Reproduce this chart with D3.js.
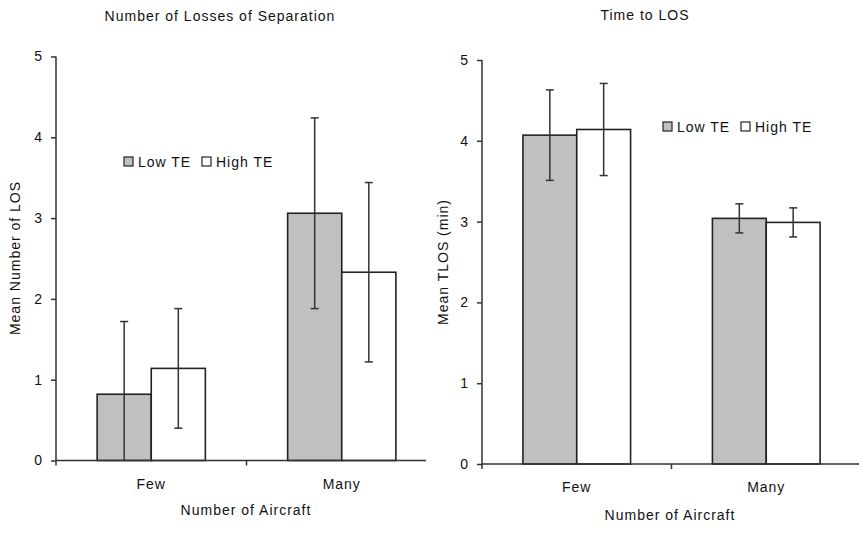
<!DOCTYPE html>
<html>
<head>
<meta charset="utf-8">
<script src="https://cdn.jsdelivr.net/npm/d3@7"></script>
<style>
  html, body { margin: 0; padding: 0; background: #fff; }
  svg text { font-family: "Liberation Sans", Arial, sans-serif; font-size: 14px; fill: #111; letter-spacing: 1px; }
</style>
</head>
<body>
<svg id="chart" width="862" height="552"></svg>
<script>
// ---- Data ----
const categories = ["Few", "Many"];
const series = ["Low TE", "High TE"];
const yTicks = [0, 1, 2, 3, 4, 5];

// Chart 1: Number of Losses of Separation
const losLow = [0.82, 3.06];
const losHigh = [1.14, 2.33];
const losLowErr = [0.90, 1.18];
const losHighErr = [0.74, 1.11];

// Chart 2: Time to LOS
const tlosLow = [4.07, 3.04];
const tlosHigh = [4.14, 2.99];
const tlosLowErr = [0.56, 0.18];
const tlosHighErr = [0.57, 0.18];

const colors = { "Low TE": "#c0c0c0", "High TE": "#ffffff" };

const svg = d3.select("#chart");

function drawChart(cfg) {
  const g = svg.append("g");
  const y = d3.scaleLinear().domain([0, 5]).range([cfg.y0, cfg.y5]);
  const x0 = d3.scaleBand().domain(categories).range([cfg.xStart, cfg.xBandEnd]).padding(0);
  const x1 = d3.scaleBand().domain(series).range([0, x0.bandwidth()]).paddingInner(0).paddingOuter(0.76);

  const rows = categories.map((c, i) => ({
    cat: c,
    vals: [
      { s: "Low TE", v: cfg.low[i], e: cfg.lowErr[i] },
      { s: "High TE", v: cfg.high[i], e: cfg.highErr[i] }
    ]
  }));

  // bars
  const grp = g.selectAll("g.cat").data(rows).join("g")
    .attr("transform", d => `translate(${x0(d.cat)},0)`);
  grp.selectAll("rect").data(d => d.vals).join("rect")
    .attr("x", d => x1(d.s))
    .attr("y", d => y(d.v))
    .attr("width", x1.bandwidth())
    .attr("height", d => y(0) - y(d.v))
    .attr("fill", d => colors[d.s])
    .attr("stroke", "#222")
    .attr("stroke-width", 1.6);

  // error bars
  const eb = grp.selectAll("g.err").data(d => d.vals).join("g").attr("class", "err");
  const cx = d => x1(d.s) + x1.bandwidth() / 2;
  const lo = d => y(Math.max(0, d.v - d.e));
  const hi = d => y(Math.min(5, d.v + d.e));
  eb.append("line").attr("x1", cx).attr("x2", cx).attr("y1", lo).attr("y2", hi)
    .attr("stroke", "#333").attr("stroke-width", 1.5);
  eb.append("line").attr("x1", d => cx(d) - 4).attr("x2", d => cx(d) + 4).attr("y1", hi).attr("y2", hi)
    .attr("stroke", "#333").attr("stroke-width", 1.5);
  eb.filter(d => d.v - d.e > 0).append("line")
    .attr("x1", d => cx(d) - 4).attr("x2", d => cx(d) + 4).attr("y1", lo).attr("y2", lo)
    .attr("stroke", "#333").attr("stroke-width", 1.5);

  // y axis
  const yAxis = d3.axisLeft(y).tickValues(yTicks).tickFormat(d3.format("d")).tickSize(5).tickPadding(9);
  const ya = g.append("g").attr("transform", `translate(${cfg.xStart},0)`).call(yAxis);
  ya.select(".domain").attr("stroke", "#333").attr("stroke-width", 1.5).attr("d", `M0,${cfg.y0}V${cfg.y5}`);
  ya.selectAll(".tick line").attr("stroke", "#333").attr("stroke-width", 1.5);
  ya.selectAll(".tick text").style("font-size", "14px").attr("fill", "#111").style("letter-spacing", "0px");

  // x axis
  const xa = g.append("g").attr("transform", `translate(0,${cfg.y0})`);
  xa.append("line").attr("x1", cfg.xStart).attr("x2", cfg.xLineEnd).attr("y1", 0).attr("y2", 0)
    .attr("stroke", "#333").attr("stroke-width", 1.5);
  const bounds = [x0(categories[0]), x0(categories[1])];
  xa.selectAll("line.tk").data(bounds).join("line").attr("class", "tk")
    .attr("x1", d => d).attr("x2", d => d).attr("y1", 0).attr("y2", 5)
    .attr("stroke", "#333").attr("stroke-width", 1.5);
  xa.selectAll("text.cl").data(categories).join("text").attr("class", "cl")
    .attr("x", d => x0(d) + x0.bandwidth() / 2)
    .attr("y", cfg.catLabelDy)
    .attr("text-anchor", "middle")
    .text(d => d);

  // titles
  g.append("text").attr("x", cfg.titleX).attr("y", cfg.titleY).attr("text-anchor", "middle").text(cfg.title);
  g.append("text").attr("x", cfg.xTitleX).attr("y", cfg.xTitleY).attr("text-anchor", "middle").text("Number of Aircraft");
  g.append("text").attr("transform", `translate(${cfg.yTitleX},${cfg.yTitleY}) rotate(-90)`)
    .attr("text-anchor", "middle").text(cfg.yTitle);

  // legend
  const lg = g.append("g").attr("transform", `translate(${cfg.legX},${cfg.legY})`);
  const items = lg.selectAll("g").data(series).join("g")
    .attr("transform", (d, i) => `translate(${i * cfg.legStep},0)`);
  items.append("rect").attr("x", 0).attr("y", -5).attr("width", 9).attr("height", 9)
    .attr("fill", d => colors[d]).attr("stroke", "#222").attr("stroke-width", 1.2);
  items.append("text").attr("x", 14).attr("y", 5).text(d => d);
}

drawChart({
  title: "Number of Losses of Separation", yTitle: "Mean Number of LOS",
  low: losLow, high: losHigh, lowErr: losLowErr, highErr: losHighErr,
  y0: 460.5, y5: 56.5, xStart: 56, xBandEnd: 437, xLineEnd: 426,
  catLabelDy: 28, titleX: 220, titleY: 21, xTitleX: 246, xTitleY: 515,
  yTitleX: 20, yTitleY: 258, legX: 124, legY: 162, legStep: 78
});

drawChart({
  title: "Time to LOS", yTitle: "Mean TLOS (min)",
  low: tlosLow, high: tlosHigh, lowErr: tlosLowErr, highErr: tlosHighErr,
  y0: 464, y5: 60, xStart: 482, xBandEnd: 861, xLineEnd: 859,
  catLabelDy: 28, titleX: 645, titleY: 20, xTitleX: 670, xTitleY: 520,
  yTitleX: 448, yTitleY: 262, legX: 663, legY: 127, legStep: 78
});
</script>
</body>
</html>
